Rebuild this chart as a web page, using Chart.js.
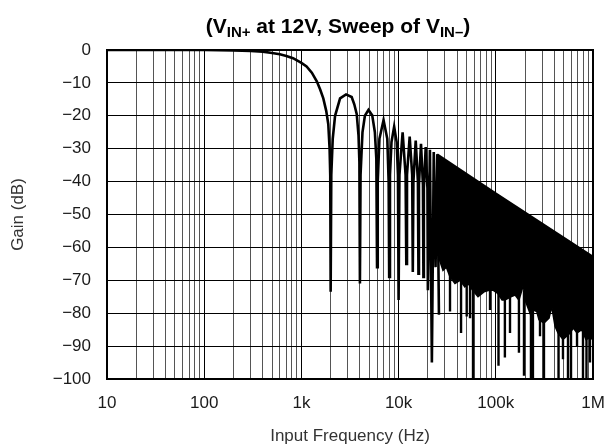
<!DOCTYPE html>
<html>
<head>
<meta charset="utf-8">
<script src="https://cdn.jsdelivr.net/npm/chart.js@4.4.1/dist/chart.umd.min.js"></script>
<style>
  html, body { margin: 0; padding: 0; background: #fff; }
  #wrap { width: 608px; height: 447px; position: relative; }
</style>
</head>
<body>
<div id="wrap"><canvas id="gainChart"></canvas></div>
<script>
// axis ticks
const xTickValues = [10, 100, 1000, 10000, 100000, 1000000];
const xTickLabels = ['10', '100', '1k', '10k', '100k', '1M'];
const yTickValues = [0, -10, -20, -30, -40, -50, -60, -70, -80, -90, -100];

// main response, read lobe by lobe up to ~26 kHz (Hz / dB)
const curveFreq = [10, 100, 200, 300, 400, 500, 600, 700, 820, 1000, 1130, 1280, 1440, 1560, 1680, 1800, 1890, 1950, 1980, 2000,
  2030, 2100, 2220, 2500, 2880, 3290, 3500, 3710, 3870, 3950, 4000,
  4060, 4250, 4500, 4900, 5350, 5700, 5900, 6000,
  6100, 6350, 7000, 7650, 7900, 8000,
  8150, 8450, 9000, 9550, 9850, 10000,
  10200, 11000, 11800, 12000,
  12200, 13000, 13800, 14000,
  14200, 15000, 15800, 16000,
  16200, 17000, 17800, 18000,
  18200, 19000, 19800, 20000,
  21000, 22000,
  23000, 24000,
  25000, 26000];
const curveGain = [0, 0, -0.1, -0.3, -0.5, -0.9, -1.3, -1.8, -2.5, -3.9, -5.0, -6.9, -9.5, -12, -14.7, -18.5, -22.5, -30, -38, -73.5,
  -38, -27, -20, -14.7, -13.5, -14.3, -16.5, -19.5, -26, -34, -71,
  -38, -25, -20, -18.2, -19.8, -25, -33, -66,
  -40, -27, -21.3, -27, -40, -69,
  -38, -28, -23.3, -28, -38, -76,
  -38, -25, -38, -65,
  -38, -26.3, -38, -67.5,
  -40, -27.5, -40, -68,
  -41, -28.5, -41, -69,
  -42, -29.5, -42, -73,
  -30.3, -95,
  -31, -66,
  -31.7, -80.5];

// dense part: upper envelope and floor of the solid band
const bandTopFreq = [25000, 100000, 1000000];
const bandTop = [-31.7, -43.6, -62.8];
const bandFloorFreq = [25000, 25600, 26500, 28600, 31000, 33800, 38000, 42800, 48000, 52000,
  57600, 65600, 75600, 85100, 93600, 104600, 116000, 124000, 143000, 158000,
  173000, 192000, 200000, 225000, 241000, 264000, 278000, 313000, 353000, 376000,
  407000, 436000, 491000, 536000, 580000, 627000, 685000, 765000, 847000, 931000, 1000000];
const bandFloor = [-31.7, -60, -64, -67, -66, -69, -71, -70, -72, -71,
  -73, -75, -73.5, -73, -73, -74, -76, -76, -75, -74.5,
  -76, -71.5, -76, -80, -79, -79.5, -82, -83, -81.5, -78,
  -84, -86, -88, -87, -86, -84.5, -86, -85, -88, -87.5, -88];

// deep notches below the band
const spikeFreq = [33800, 43900, 50200, 54300, 58300, 87200, 106600, 124000, 140000, 173000, 195000, 230000,
  241000, 285000, 313000, 442000, 491000, 553000, 594000, 685000, 789000, 857000, 931000];
const spikeTop = [-66, -68, -70, -70, -71, -72, -72, -74, -74, -74, -73, -78,
  -78, -79, -81, -83, -85, -85, -84, -84, -84, -85, -85];
const spikeBottom = [-79.5, -86, -81, -81.5, -99.7, -79, -96, -93.5, -86, -92, -99, -100,
  -100, -87, -100, -100, -94, -100, -100, -90, -100, -100, -95];

function pairs(xs, ys) {
  return xs.map((x, i) => ({ x: x, y: ys[i] }));
}

const spikeData = [];
spikeFreq.forEach((f, i) => {
  spikeData.push({ x: f, y: spikeTop[i] }, { x: f, y: spikeBottom[i] }, { x: f, y: null });
});

const frameAndTitle = {
  id: 'frameAndTitle',
  afterDraw(chart) {
    const ctx = chart.ctx;
    const a = chart.chartArea;
    ctx.save();
    ctx.strokeStyle = '#000';
    ctx.lineWidth = 2;
    ctx.strokeRect(a.left, a.top, a.right - a.left, a.bottom - a.top);

    const parts = [['(V', false], ['IN+', true], [' at 12V, Sweep of V', false], ['IN\u2013', true], [')', false]];
    const big = 'bold 21px Arial, "Liberation Sans", Helvetica, sans-serif';
    const small = 'bold 15px Arial, "Liberation Sans", Helvetica, sans-serif';
    let total = 0;
    parts.forEach(p => { ctx.font = p[1] ? small : big; total += ctx.measureText(p[0]).width; });
    let x = 338 - total / 2;
    const base = 33;
    ctx.fillStyle = '#000';
    ctx.textBaseline = 'alphabetic';
    ctx.textAlign = 'left';
    parts.forEach(p => {
      ctx.font = p[1] ? small : big;
      ctx.fillText(p[0], x, p[1] ? base + 4 : base);
      x += ctx.measureText(p[0]).width;
    });
    ctx.restore();
  }
};

const tickFont = { family: 'Arial, "Liberation Sans", Helvetica, sans-serif', size: 17 };

new Chart(document.getElementById('gainChart').getContext('2d'), {
  type: 'scatter',
  data: {
    datasets: [
      {
        label: 'floor',
        data: pairs(bandFloorFreq, bandFloor),
        showLine: true,
        borderColor: '#000',
        borderWidth: 1.5,
        pointRadius: 0,
        fill: false
      },
      {
        label: 'envelope',
        data: pairs(bandTopFreq, bandTop),
        showLine: true,
        borderColor: '#000',
        backgroundColor: '#000',
        borderWidth: 2,
        pointRadius: 0,
        fill: '-1'
      },
      {
        label: 'notches',
        data: spikeData,
        showLine: true,
        spanGaps: false,
        borderColor: '#000',
        borderWidth: 2.4,
        pointRadius: 0
      },
      {
        label: 'Gain',
        data: pairs(curveFreq, curveGain),
        showLine: true,
        borderColor: '#000',
        borderWidth: 2.6,
        pointRadius: 0,
        tension: 0
      }
    ]
  },
  options: {
    responsive: true,
    maintainAspectRatio: false,
    animation: false,
    layout: { padding: { left: 0, right: 15, top: 50, bottom: 0 } },
    plugins: {
      legend: { display: false },
      tooltip: { enabled: false },
      title: { display: false }
    },
    scales: {
      x: {
        type: 'logarithmic',
        min: 10,
        max: 1000000,
        afterBuildTicks: scale => {
          const ticks = [];
          xTickValues.forEach((v, i) => {
            ticks.push({ value: v });
            if (i < xTickValues.length - 1) {
              for (let m = 2; m <= 9; m++) ticks.push({ value: v * m });
            }
          });
          scale.ticks = ticks;
        },
        afterFit: scale => {
          scale.height = 68;
          // tick padding only meant to push labels down, not sideways
          scale.paddingLeft = 0;
          scale.paddingRight = 12;
        },
        ticks: {
          autoSkip: false,
          maxRotation: 0,
          padding: 14,
          color: '#1a1a1a',
          font: tickFont,
          callback: value => {
            const i = xTickValues.indexOf(value);
            return i >= 0 ? xTickLabels[i] : '';
          }
        },
        grid: {
          drawTicks: false,
          lineWidth: 1,
          color: ctx => (ctx.tick && xTickValues.includes(ctx.tick.value)) ? '#000' : '#555'
        },
        border: { display: false },
        title: {
          display: true,
          text: 'Input Frequency (Hz)',
          color: '#333',
          font: tickFont,
          padding: { top: 0, bottom: 0 }
        }
      },
      y: {
        min: -100,
        max: 0,
        afterBuildTicks: scale => { scale.ticks = yTickValues.map(v => ({ value: v })); },
        afterFit: scale => { scale.width = 107; },
        ticks: {
          padding: 16,
          color: '#1a1a1a',
          font: tickFont,
          callback: v => v === 0 ? '0' : '\u2212' + Math.abs(v)
        },
        grid: { drawTicks: false, color: '#000', lineWidth: 1 },
        border: { display: false },
        title: {
          display: true,
          text: 'Gain (dB)',
          color: '#333',
          font: tickFont,
          padding: { top: 8, bottom: 0 }
        }
      }
    }
  },
  plugins: [frameAndTitle]
});
</script>
</body>
</html>
